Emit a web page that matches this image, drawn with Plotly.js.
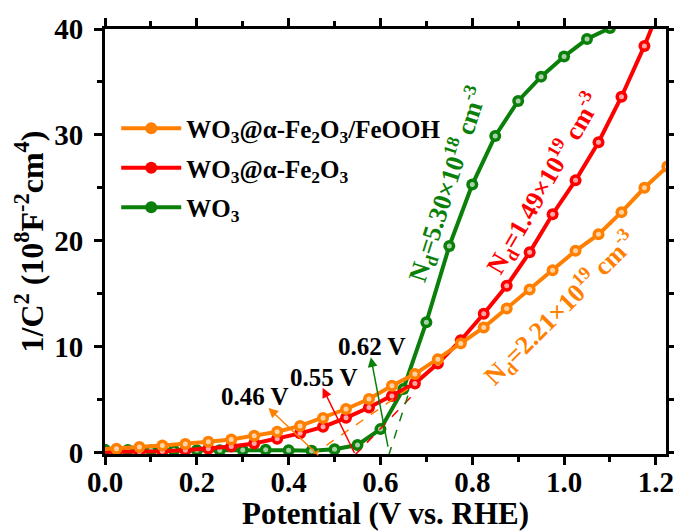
<!DOCTYPE html>
<html><head><meta charset="utf-8">
<script src="https://cdn.plot.ly/plotly-3.0.1.min.js"></script>
<style>html,body{margin:0;padding:0;background:#fff}#chart{width:674px;height:531px}</style>
</head><body><div id="chart"></div><script>
// ---- data ----
const potentialFe = [-0.025, 0.025, 0.075, 0.125, 0.175, 0.225, 0.275, 0.325, 0.375, 0.425, 0.475, 0.525, 0.575,
  0.625, 0.675, 0.725, 0.775, 0.825, 0.875, 0.925, 0.975, 1.025, 1.075, 1.125, 1.175, 1.225];
const feoohVals = [0.25, 0.35, 0.52, 0.65, 0.8, 1.0, 1.22, 1.57, 1.95, 2.5, 3.25, 4.1, 5.05,
  6.3, 7.4, 8.8, 10.3, 11.8, 13.6, 15.4, 17.2, 19.05, 20.6, 22.7, 25.0, 27.0];
const fe2o3Vals = [0.05, 0.05, 0.08, 0.12, 0.2, 0.35, 0.55, 0.85, 1.3, 1.8, 2.42, 3.27, 4.24,
  5.33, 6.5, 8.4, 10.6, 13.1, 15.75, 18.9, 22.5, 25.7, 29.3, 33.6, 38.4, 43.8];
const potentialWO3 = [0.0, 0.05, 0.1, 0.15, 0.2, 0.25, 0.3, 0.35, 0.4, 0.45, 0.5, 0.55, 0.6,
  0.65, 0.7, 0.75, 0.8, 0.85, 0.9, 0.95, 1.0, 1.05, 1.1];
const wo3Vals = [0.25, 0.22, 0.2, 0.2, 0.2, 0.2, 0.22, 0.25, 0.2, 0.15, 0.3, 0.7, 2.2,
  6.0, 12.3, 19.5, 25.3, 29.9, 33.2, 35.5, 37.4, 39.05, 40.1];

const seriesNames = ['WO<sub>3</sub>@α-Fe<sub>2</sub>O<sub>3</sub>/FeOOH', 'WO<sub>3</sub>@α-Fe<sub>2</sub>O<sub>3</sub>', 'WO<sub>3</sub>'];
const seriesColors = ['#FF8000', '#FF0000', '#0A7F0A'];

// flat-band potentials (x-intercepts) and tangent slopes
const flatBand = [0.46, 0.55, 0.62];
const tangentSlope = [30, 45, 135];
const tangentTop = [6.0, 5.8, 6.0];
const ndLabels = ['N<sub>d</sub>=2.21×10<sup>19</sup> cm<sup>-3</sup>',
                  'N<sub>d</sub>=1.49×10<sup>19</sup> cm<sup>-3</sup>',
                  'N<sub>d</sub>=5.30×10<sup>18</sup> cm<sup>-3</sup>'];

const xTicks = [0.0, 0.2, 0.4, 0.6, 0.8, 1.0, 1.2];
const yTicks = [0, 10, 20, 30, 40];

const FONT = 'Liberation Serif, Times New Roman, serif';

function series(x, y, i, order) {
  return [{
    x: x, y: y, type: 'scatter', mode: 'lines+markers', name: seriesNames[i],
    legendrank: order, legendgroup: 'g' + i,
    line: {color: seriesColors[i], width: 4},
    marker: {color: seriesColors[i], size: 12, line: {width: 0}}
  }, {
    x: x, y: y, type: 'scatter', mode: 'markers', showlegend: false, hoverinfo: 'skip',
    legendgroup: 'g' + i,
    marker: {color: 'rgba(255,255,255,0.65)', size: 5}
  }];
}

const traces = [].concat(
  series(potentialWO3, wo3Vals, 2, 3),
  series(potentialFe, fe2o3Vals, 1, 2),
  series(potentialFe, feoohVals, 0, 1)
);

const shapes = flatBand.map((v, i) => ({
  type: 'line', xref: 'x', yref: 'y',
  x0: v - 0.3 / tangentSlope[i], y0: -0.3,
  x1: v + tangentTop[i] / tangentSlope[i], y1: tangentTop[i],
  line: {color: seriesColors[i], width: 1.5, dash: 'dash'}
}));

// arrow geometry (head / tail) near each intercept
const arrowHead = [[0.356, 4.2], [0.474, 6.1], [0.579, 9.0]];
const arrowTail = [[0.468, -0.4], [0.545, -0.2], [0.617, 0.4]];
const labelPos = [[0.327, 5.3], [0.476, 7.05], [0.581, 10.0]];
const ndPos = [[0.993, 13.6, -45], [0.955, 25.4, -60], [0.745, 25.3, -72]];

const annotations = [];
flatBand.forEach((v, i) => {
  annotations.push({
    x: arrowHead[i][0], y: arrowHead[i][1], ax: arrowTail[i][0], ay: arrowTail[i][1],
    xref: 'x', yref: 'y', axref: 'x', ayref: 'y', text: '', showarrow: true,
    arrowhead: 2, arrowsize: 1.3, arrowwidth: 1.5, arrowcolor: seriesColors[i]
  });
  annotations.push({
    x: labelPos[i][0], y: labelPos[i][1], xref: 'x', yref: 'y', showarrow: false,
    text: v.toFixed(2) + ' V', font: {family: FONT, size: 25, color: '#000', weight: 'bold'}
  });
  annotations.push({
    x: ndPos[i][0], y: ndPos[i][1], xref: 'x', yref: 'y', showarrow: false,
    text: ndLabels[i], textangle: ndPos[i][2],
    font: {family: FONT, size: 26, color: seriesColors[i], weight: 'bold'}
  });
});

const axisCommon = {
  showline: true, linewidth: 3, linecolor: '#000', mirror: 'ticks',
  ticks: 'outside', ticklen: 8, tickwidth: 3, tickcolor: '#000',
  showgrid: false, zeroline: false, ticklabeloverflow: 'allow',
  tickfont: {family: FONT, size: 29, color: '#000', weight: 'bold'}
};

const layout = {
  width: 674, height: 531,
  margin: {l: 105, r: 8, t: 29, b: 77},
  paper_bgcolor: '#fff', plot_bgcolor: '#fff',
  font: {family: FONT, color: '#000'},
  xaxis: Object.assign({}, axisCommon, {
    range: [0, 1.222], tickvals: xTicks, ticktext: xTicks.map(v => v.toFixed(1)),
    ticklabelstandoff: -8,
    minor: {dtick: 0.1, tick0: 0, ticks: 'outside', ticklen: 5, tickwidth: 3, tickcolor: '#000'},
    title: {text: 'Potential (V vs. RHE)', font: {family: FONT, size: 31, color: '#000', weight: 'bold'}, standoff: 6}
  }),
  yaxis: Object.assign({}, axisCommon, {
    range: [-0.15, 40], tickvals: yTicks,
    ticklabelstandoff: 5,
    minor: {dtick: 5, tick0: 0, ticks: 'outside', ticklen: 5, tickwidth: 3, tickcolor: '#000'},
    title: {text: '1/C<sup>2</sup> (10<sup>8</sup>F<sup>-2</sup>cm<sup>4</sup>)', font: {family: FONT, size: 32, color: '#000', weight: 'bold'}, standoff: 2}
  }),
  legend: {
    x: 0.02, y: 0.82, xanchor: 'left', yanchor: 'top',
    traceorder: 'grouped', tracegroupgap: 4,
    bgcolor: 'rgba(0,0,0,0)', borderwidth: 0, itemwidth: 60,
    font: {family: FONT, size: 25, color: '#000', weight: 'bold'}
  },
  shapes: shapes,
  annotations: annotations,
  showlegend: true
};

Plotly.newPlot('chart', traces, layout, {displayModeBar: false, staticPlot: true});
</script></body></html>
